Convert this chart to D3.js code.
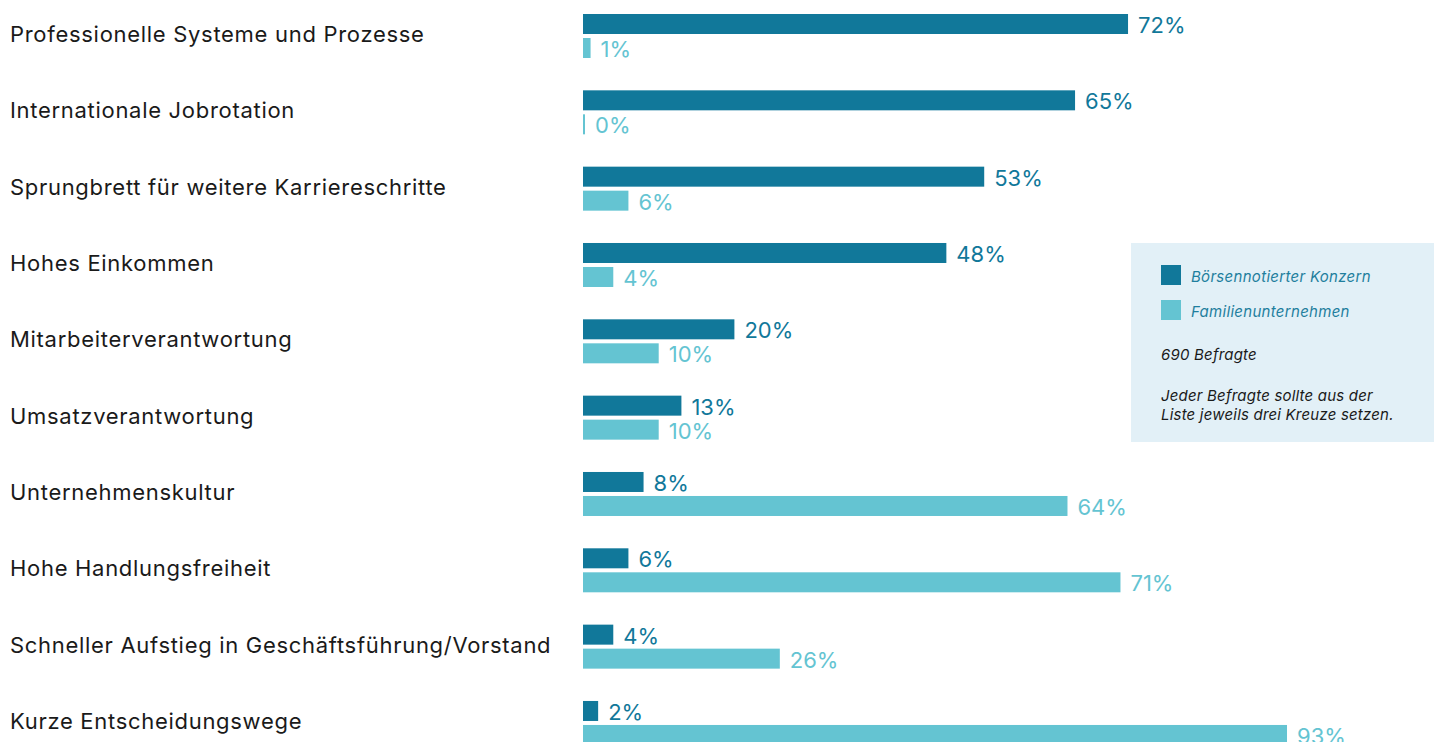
<!DOCTYPE html>
<html>
<head>
<meta charset="utf-8">
<script src="https://cdn.jsdelivr.net/npm/d3@7"></script>
<style>
  html, body { margin: 0; padding: 0; background: #fff; }
  svg { display: block; font-family: Inter, "Noto Sans", sans-serif; }
</style>
</head>
<body>
<svg id="chart" width="1437" height="742"></svg>
<script>
'use strict';

var categories = [
  'Professionelle Systeme und Prozesse',
  'Internationale Jobrotation',
  'Sprungbrett für weitere Karriereschritte',
  'Hohes Einkommen',
  'Mitarbeiterverantwortung',
  'Umsatzverantwortung',
  'Unternehmenskultur',
  'Hohe Handlungsfreiheit',
  'Schneller Aufstieg in Geschäftsführung/Vorstand',
  'Kurze Entscheidungswege'
];
var konzern = [72, 65, 53, 48, 20, 13, 8, 6, 4, 2];
var familie = [1, 0, 6, 4, 10, 10, 64, 71, 26, 93];
var seriesNames = ['Börsennotierter Konzern', 'Familienunternehmen'];
var notes = ['690 Befragte', 'Jeder Befragte sollte aus der', 'Liste jeweils drei Kreuze setzen.'];

var dark = '#11789a';
var light = '#64c4d2';

var svg = d3.select('#chart');

var x = d3.scaleLinear().domain([0, 100]).range([583, 1340]);
var y = d3.scaleBand().domain(categories).range([0, 763.3]).paddingInner(0);

var rows = categories.map(function (c, i) {
  return { cat: c, a: konzern[i], b: familie[i] };
});

var g = svg.selectAll('g.row')
  .data(rows)
  .enter().append('g')
  .attr('class', 'row')
  .attr('transform', function (d) { return 'translate(0,' + y(d.cat) + ')'; });

// category label
g.append('text')
  .attr('x', 10)
  .attr('y', 34)
  .attr('dominant-baseline', 'central')
  .attr('font-size', '22px')
  .attr('letter-spacing', '0.7px')
  .attr('fill', '#1a1a1a')
  .text(function (d) { return d.cat; });

// konzern bar
g.append('rect')
  .attr('x', x(0))
  .attr('y', 14)
  .attr('height', 20)
  .attr('width', function (d) { return Math.max(x(d.a) - x(0), 2); })
  .attr('fill', dark);

g.append('text')
  .attr('x', function (d) { return Math.max(x(d.a), x(0) + 2) + 10; })
  .attr('y', 25)
  .attr('dominant-baseline', 'central')
  .attr('font-size', '22px')
  .attr('fill', dark)
  .text(function (d) { return d.a + '%'; });

// familie bar
g.append('rect')
  .attr('x', x(0))
  .attr('y', 38)
  .attr('height', 20)
  .attr('width', function (d) { return Math.max(x(d.b) - x(0), 2); })
  .attr('fill', light);

g.append('text')
  .attr('x', function (d) { return Math.max(x(d.b), x(0) + 2) + 10; })
  .attr('y', 49)
  .attr('dominant-baseline', 'central')
  .attr('font-size', '22px')
  .attr('fill', light)
  .text(function (d) { return d.b + '%'; });

// legend box
var lg = svg.append('g').attr('transform', 'translate(1131,243)');
lg.append('rect')
  .attr('width', 303)
  .attr('height', 199)
  .attr('fill', '#e2f0f7');

var items = lg.selectAll('g.item')
  .data(seriesNames)
  .enter().append('g')
  .attr('class', 'item')
  .attr('transform', function (d, i) { return 'translate(30,' + (22 + i * 35) + ')'; });

items.append('rect')
  .attr('width', 20)
  .attr('height', 20)
  .attr('fill', function (d, i) { return i === 0 ? dark : light; });

items.append('text')
  .attr('x', 30)
  .attr('y', 11)
  .attr('dominant-baseline', 'central')
  .attr('font-size', '15px')
  .attr('letter-spacing', '0.3px')
  .attr('font-style', 'italic')
  .attr('fill', '#1f7f9e')
  .text(function (d) { return d; });

lg.selectAll('text.note')
  .data(notes)
  .enter().append('text')
  .attr('class', 'note')
  .attr('x', 30)
  .attr('y', function (d, i) { return i === 0 ? 111 : 152 + (i - 1) * 19; })
  .attr('dominant-baseline', 'central')
  .attr('font-size', '15px')
  .attr('letter-spacing', '0.2px')
  .attr('font-style', 'italic')
  .attr('fill', '#1a1a1a')
  .text(function (d) { return d; });
</script>
</body>
</html>
